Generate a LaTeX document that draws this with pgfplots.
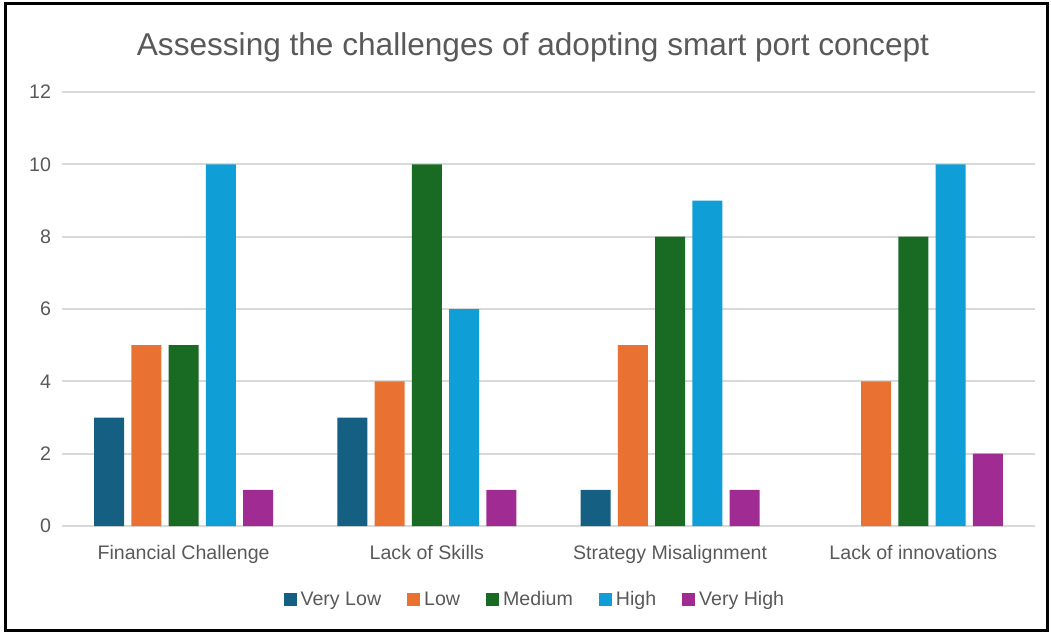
\documentclass[border=0pt]{standalone}
\usepackage{fontspec}
\setmainfont{Liberation Sans}
\usepackage{pgfplots}
\pgfplotsset{compat=1.18}
\definecolor{vlow}{HTML}{156082}
\definecolor{low}{HTML}{E97132}
\definecolor{med}{HTML}{196B24}
\definecolor{high}{HTML}{0F9ED5}
\definecolor{vhigh}{HTML}{A02B93}
\definecolor{txt}{HTML}{595959}
\definecolor{gridc}{HTML}{D9D9D9}
\begin{document}
\begin{tikzpicture}
\useasboundingbox (0pt,0pt) rectangle (525.5pt,316.5pt);
\draw[line width=1.5pt] (2.5pt,1.5pt) rectangle (523.5pt,314.5pt);
\node[text=txt,font=\fontsize{15.8}{18}\selectfont] at (266.5pt,293pt) {Assessing the challenges of adopting smart port concept};
\begin{axis}[
  at={(31pt,53.5pt)}, anchor=south west,
  scale only axis, width=486.5pt, height=217pt,
  xmin=-0.5, xmax=3.5, ymin=0, ymax=12,
  ytick={0,2,...,12},
  xtick={0,1,2,3},
  xticklabels={Financial Challenge,Lack of Skills,Strategy Misalignment,Lack of innovations},
  axis line style={draw=none},
  major tick length=0pt,
  ymajorgrids,
  grid style={gridc, line width=1pt},
  ybar=3.65pt, bar width=15pt,
  /pgf/number format/assume math mode=true,
  tick label style={text=txt, font=\fontsize{9.8}{11}\selectfont},
  xticklabel style={yshift=-6pt},
  yticklabel style={xshift=-2pt},
  legend style={at={(0.487,-0.1705)}, anchor=center, draw=none, fill=none,
    legend columns=-1, font=\fontsize{9.8}{11}\selectfont, text=txt,
    /tikz/every even column/.append style={column sep=11pt}},
  legend image code/.code={\fill[#1] (0pt,-3pt) rectangle (6.5pt,3.5pt);},
]
\addplot[fill=vlow, draw=none] coordinates {(0,3) (1,3) (2,1)};
\addplot[fill=low, draw=none] coordinates {(0,5) (1,4) (2,5) (3,4)};
\addplot[fill=med, draw=none] coordinates {(0,5) (1,10) (2,8) (3,8)};
\addplot[fill=high, draw=none] coordinates {(0,10) (1,6) (2,9) (3,10)};
\addplot[fill=vhigh, draw=none] coordinates {(0,1) (1,1) (2,1) (3,2)};
\legend{Very Low,Low,Medium,High,Very High}
\end{axis}
\end{tikzpicture}
\end{document}
